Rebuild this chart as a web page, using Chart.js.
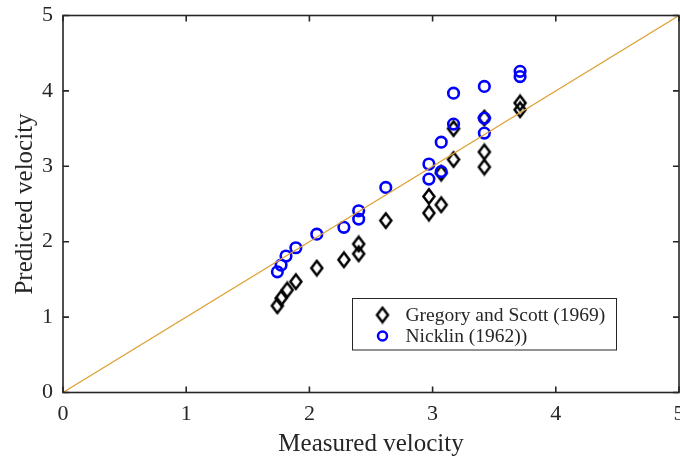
<!DOCTYPE html>
<html>
<head>
<meta charset="utf-8">
<script src="https://cdn.jsdelivr.net/npm/chart.js@4"></script>
<style>
  html, body { margin: 0; padding: 0; background: #fff; overflow: hidden; }
  canvas { display: block; }
</style>
</head>
<body>
<canvas id="velChart" width="680" height="459"></canvas>
<script>
// measured / predicted values
const gregoryMeasured = [1.74, 1.77, 1.82, 1.89, 2.06, 2.28, 2.40, 2.40, 2.62,
  2.97, 2.97, 3.07, 3.07, 3.17, 3.17, 3.42, 3.42, 3.42, 3.71, 3.71];
const gregoryPredicted = [1.15, 1.25, 1.36, 1.47, 1.65, 1.76, 1.84, 1.97, 2.28,
  2.60, 2.38, 2.49, 2.91, 3.09, 3.50, 3.19, 2.99, 3.64, 3.84, 3.75];
const nicklinMeasured = [1.74, 1.77, 1.81, 1.89, 2.06, 2.28, 2.40, 2.40, 2.62,
  2.97, 2.97, 3.07, 3.07, 3.17, 3.17, 3.42, 3.42, 3.42, 3.71, 3.71];
const nicklinPredicted = [1.60, 1.69, 1.81, 1.92, 2.10, 2.19, 2.30, 2.41, 2.72,
  3.03, 2.83, 2.93, 3.32, 3.56, 3.97, 3.44, 3.64, 4.06, 4.19, 4.26];
const lineX = [0, 5];
const tickValues = [0, 1, 2, 3, 4, 5];
const seriesNames = ['Gregory and Scott (1969)', 'Nicklin (1962))'];

const axisColor = '#262626';
const serif = '"Liberation Serif", "DejaVu Serif", serif';

const toPoints = (xs, ys) => xs.map((x, i) => ({ x: x, y: ys[i] }));

// MATLAB style diamond (taller than wide)
function makeDiamond(w, h, lw) {
  const c = document.createElement('canvas');
  c.width = w + lw * 2;
  c.height = h + lw * 2;
  const g = c.getContext('2d');
  const cx = c.width / 2, cy = c.height / 2;
  g.strokeStyle = '#000';
  g.lineWidth = lw;
  g.lineJoin = 'miter';
  g.beginPath();
  g.moveTo(cx, cy - h / 2);
  g.lineTo(cx + w / 2, cy);
  g.lineTo(cx, cy + h / 2);
  g.lineTo(cx - w / 2, cy);
  g.closePath();
  g.stroke();
  return c;
}
const diamond = makeDiamond(11, 14.5, 2.5);

// drop the label overhang padding so the box fills the canvas like the original
function noPad(s) {
  s.paddingLeft = 0;
  s.paddingRight = 0;
  s.paddingTop = 0;
  s.paddingBottom = 0;
}

// box around the plot with inward ticks on all four sides
const boxPlugin = {
  id: 'boxPlugin',
  afterDatasetsDraw(chart) {
    const { ctx, chartArea: a, scales } = chart;
    const len = 6;
    ctx.save();
    ctx.strokeStyle = axisColor;
    ctx.lineWidth = 1.6;
    ctx.strokeRect(a.left, a.top, a.right - a.left, a.bottom - a.top);
    ctx.beginPath();
    tickValues.forEach(v => {
      const px = scales.x.getPixelForValue(v);
      ctx.moveTo(px, a.bottom); ctx.lineTo(px, a.bottom - len);
      ctx.moveTo(px, a.top); ctx.lineTo(px, a.top + len);
      const py = scales.y.getPixelForValue(v);
      ctx.moveTo(a.left, py); ctx.lineTo(a.left + len, py);
      ctx.moveTo(a.right, py); ctx.lineTo(a.right - len, py);
    });
    ctx.stroke();
    ctx.restore();
  }
};

// legend box inside the plot
const legendPlugin = {
  id: 'legendPlugin',
  afterDraw(chart) {
    const { ctx, chartArea: a } = chart;
    const bx = a.left + 289.5, by = a.top + 283, bw = 264, bh = 51.5;
    ctx.save();
    ctx.fillStyle = '#fff';
    ctx.fillRect(bx, by, bw, bh);
    ctx.strokeStyle = axisColor;
    ctx.lineWidth = 1;
    ctx.strokeRect(bx, by, bw, bh);

    const mx = bx + 30;
    const rows = [by + 16.5, by + 37.5];
    ctx.drawImage(diamond, mx - diamond.width / 2, rows[0] - diamond.height / 2);
    ctx.beginPath();
    ctx.strokeStyle = '#0000ff';
    ctx.lineWidth = 2.5;
    ctx.arc(mx, rows[1], 4.5, 0, Math.PI * 2);
    ctx.stroke();

    ctx.fillStyle = axisColor;
    ctx.font = '19.5px ' + serif;
    ctx.textBaseline = 'middle';
    ctx.textAlign = 'left';
    seriesNames.forEach((name, i) => ctx.fillText(name, bx + 53, rows[i] + 1));
    ctx.restore();
  }
};

new Chart(document.getElementById('velChart'), {
  type: 'scatter',
  data: {
    datasets: [
      {
        type: 'line',
        label: 'y = x',
        data: toPoints(lineX, lineX),
        borderColor: '#dda236',
        borderWidth: 1.2,
        pointRadius: 0,
        fill: false,
        order: 0
      },
      {
        label: seriesNames[0],
        data: toPoints(gregoryMeasured, gregoryPredicted),
        pointStyle: diamond,
        pointRadius: 7,
        order: 2
      },
      {
        label: seriesNames[1],
        data: toPoints(nicklinMeasured, nicklinPredicted),
        pointStyle: 'circle',
        pointRadius: 5.3,
        borderWidth: 2.6,
        borderColor: '#0000ff',
        backgroundColor: 'rgba(0,0,0,0)',
        order: 1
      }
    ]
  },
  options: {
    responsive: false,
    maintainAspectRatio: false,
    devicePixelRatio: 1,
    animation: false,
    layout: { autoPadding: false, padding: { top: 15.5, right: 1, left: 0, bottom: 0 } },
    plugins: {
      legend: { display: false },
      tooltip: { enabled: false }
    },
    scales: {
      x: {
        type: 'linear',
        min: 0,
        max: 5,
        afterBuildTicks: s => { s.ticks = tickValues.map(v => ({ value: v })); },
        afterFit: s => { s.height = 66.5; noPad(s); },
        grid: { display: false, drawTicks: false },
        border: { display: false },
        ticks: { color: axisColor, padding: 9, font: { family: serif, size: 22 } },
        title: {
          display: true,
          text: 'Measured velocity',
          color: axisColor,
          padding: { top: 0, bottom: 0 },
          font: { family: serif, size: 25 }
        }
      },
      y: {
        type: 'linear',
        min: 0,
        max: 5,
        afterBuildTicks: s => { s.ticks = tickValues.map(v => ({ value: v })); },
        afterFit: s => { s.width = 63; noPad(s); },
        grid: { display: false, drawTicks: false },
        border: { display: false },
        ticks: { color: axisColor, padding: 10, font: { family: serif, size: 22 } },
        title: {
          display: true,
          text: 'Predicted velocity',
          color: axisColor,
          padding: { top: 10, bottom: 0 },
          font: { family: serif, size: 25 }
        }
      }
    }
  },
  plugins: [boxPlugin, legendPlugin]
});
</script>
</body>
</html>
